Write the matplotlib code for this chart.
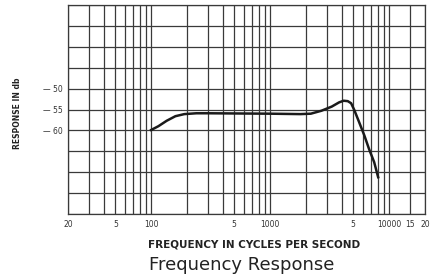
import matplotlib
matplotlib.use("Agg")
import matplotlib.pyplot as plt

# Data
freq = [100, 115, 135, 160, 190, 240, 300, 1000, 1800, 2200, 2700, 3300, 3800,
        4150, 4500, 4800, 5100, 5600, 6200, 6800, 7500, 8100]
response = [-59.9, -59.0, -57.7, -56.6, -56.1, -55.9, -55.9, -56.0, -56.1, -56.0, -55.3,
            -54.3, -53.3, -52.9, -53.0, -53.5, -55.1, -58.0, -61.2, -64.5, -67.6, -71.2]

grid_x = [20, 30, 40, 50, 60, 70, 80, 90,
          100, 200, 300, 400, 500, 600, 700, 800, 900,
          1000, 2000, 3000, 4000, 5000, 6000, 7000, 8000, 9000,
          10000, 15000, 20000]
grid_y = [-30, -35, -40, -45, -50, -55, -60, -65, -70, -75, -80]

xtick_pos = [20, 50, 100, 500, 1000, 5000, 10000, 15000, 20000]
xtick_lab = ['20', '5', '100', '5', '1000', '5', '10000', '15', '20']
ytick_pos = [-50, -55, -60]
ytick_lab = ['— 50', '— 55', '— 60']

fig = plt.figure(figsize=(4.43, 2.79), dpi=100)
ax = fig.add_axes([0.1535, 0.233, 0.8055, 0.749])

for gx in grid_x:
    ax.axvline(gx, color='#3a3a3a', lw=0.9)
for gy in grid_y:
    ax.axhline(gy, color='#3a3a3a', lw=0.9)

ax.plot(freq, response, color='#1a1a1a', lw=1.8, solid_joinstyle='round')

ax.set_xscale('log')
ax.set_xlim(20, 20000)
ax.set_ylim(-80, -30)
ax.minorticks_off()
ax.set_xticks(xtick_pos)
ax.set_xticklabels(xtick_lab)
ax.set_yticks(ytick_pos)
ax.set_yticklabels(ytick_lab)
ax.tick_params(length=0, labelsize=5.5, colors='#333333', pad=4)
for s in ax.spines.values():
    s.set_color('#3a3a3a')
    s.set_linewidth(0.9)

ax.set_ylabel('RESPONSE IN db', fontsize=5.5, fontweight='bold', color='#222222')
ax.yaxis.set_label_coords(-0.13, 0.48)

fig.text(0.573, 0.122, 'FREQUENCY IN CYCLES PER SECOND', fontsize=7.5, fontweight='bold',
         color='#222222', ha='center', va='center')
fig.text(0.546, 0.05, 'Frequency Response', fontsize=13, color='#222222', ha='center', va='center')

fig.savefig('out.png', dpi=100)
